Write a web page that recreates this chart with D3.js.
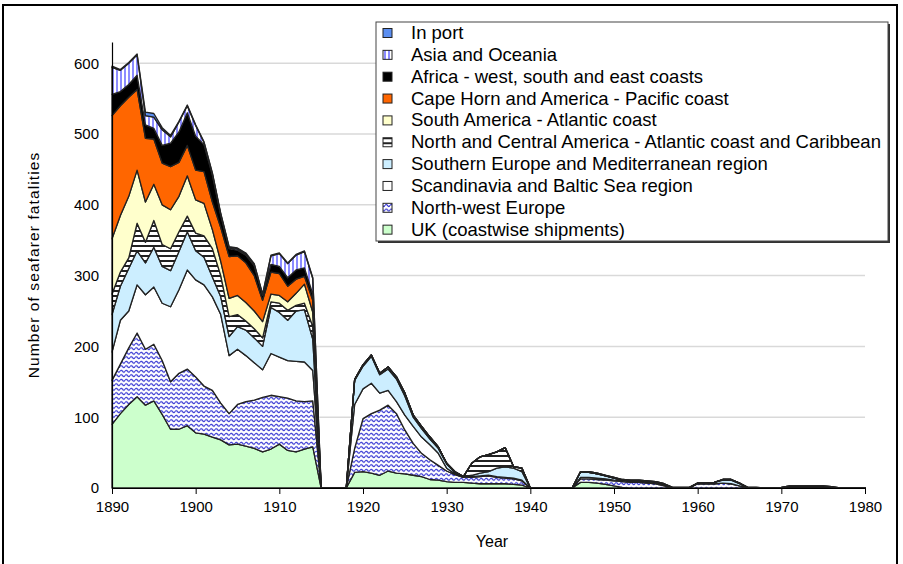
<!DOCTYPE html>
<html><head><meta charset="utf-8">
<script src="https://cdn.jsdelivr.net/npm/d3@7"></script>
<style>
body{margin:0;background:#fff}
svg{display:block}
text{font-family:"Liberation Sans",Arial,sans-serif;fill:#000}
</style>
</head><body>
<svg id="chart" width="903" height="564"></svg>
<script>
// ---------------- DATA ----------------
const years = [1890,1891,1892,1893,1894,1895,1896,1897,1898,1899,
  1900,1901,1902,1903,1904,1905,1906,1907,1908,1909,
  1910,1911,1912,1913,1914,1915,1916,1917,1918,1919,
  1920,1921,1922,1923,1924,1925,1926,1927,1928,1929,
  1930,1931,1932,1933,1934,1935,1936,1937,1938,1939,
  1940,1941,1942,1943,1944,1945,1946,1947,1948,1949,
  1950,1951,1952,1953,1954,1955,1956,1957,1958,1959,
  1960,1961,1962,1963,1964,1965,1966,1967,1968,1969,
  1970,1971,1972,1973,1974,1975,1976,1977,1978,1979,1980];

const ukCoastwise = [90,105,118,129,117,123,104,83,83,88, 78,76,72,68,61,62,59,56,51,55, 62,53,51,55,58,0,0,0,0,22,
  23,21,18,24,21,20,18,16,12,11, 9,8,8,7,6,6,6,6,5,4, 0,0,0,0,0,0,8,8,7,5,
  3,1,0,0,0,0,0,0,0,0, 0,0,0,0,0,0,0,0,0,0, 0,0,0,0,0,0,0,0,0,0,0];
const northWestEurope = [62,70,80,90,79,80,76,67,79,80, 79,68,66,52,44,56,63,68,77,76, 67,74,72,67,65,0,0,0,0,34,
  75,84,92,93,84,62,45,33,28,21, 15,11,7,8,10,11,9,8,8,6, 0,0,0,0,0,0,5,5,5,6,
  7,8,8,8,7,6,3,0,0,0, 6,6,6,7,6,3,0,0,0,0, 0,0,0,0,0,0,0,0,0,0,0];
const scandinavia = [40,62,52,68,77,81,81,106,118,140, 137,143,132,125,82,78,65,53,39,59, 56,53,56,56,43,0,0,0,0,62,
  42,43,24,21,17,21,24,23,21,17, 4,1,0,1,1,1,1,1,1,1, 0,0,0,0,0,0,2,2,2,2,
  1,1,1,1,1,1,1,0,0,0, 0,0,0,0,0,0,0,0,0,0, 0,0,0,0,0,0,0,0,0,0,0];
const southernEurope = [53,48,60,48,45,56,52,51,54,54, 41,39,28,25,27,32,36,35,33,65, 63,57,71,74,44,0,0,0,0,34,
  32,38,26,30,32,27,13,12,8,7, 6,2,1,2,4,5,12,15,14,12, 0,0,0,0,0,0,8,7,6,4,
  3,1,1,1,1,1,1,0,0,0, 1,1,2,4,5,3,0,0,0,0, 0,0,0,0,0,0,0,0,0,0,0];
const northCentralAmerica = [29,20,15,39,29,38,31,31,28,22, 25,30,40,30,28,17,13,13,12,8, 13,14,8,9,18,0,0,0,0,1,
  2,2,2,3,3,4,3,3,3,2, 1,1,0,17,23,24,23,27,2,5, 0,0,0,0,0,0,0,0,0,0,
  0,0,0,0,0,0,0,0,0,0, 0,0,0,1,1,1,0,0,0,0, 0,0,0,0,0,0,0,0,0,0,0];
const southAmericaAtlantic = [78,80,87,75,57,51,56,55,50,57, 47,46,27,20,26,27,26,25,23,11, 11,12,17,27,20,0,0,0,0,0,
  0,0,0,0,0,0,0,0,0,0, 0,0,0,0,0,0,0,0,0,0, 0,0,0,0,0,0,0,0,0,0,
  0,0,0,0,0,0,0,0,0,0, 0,0,0,0,0,0,0,0,0,0, 0,0,0,0,0,0,0,0,0,0,0];
const capeHornPacific = [174,155,140,114,90,64,59,61,48,43, 42,45,39,48,59,56,56,50,30,31, 31,22,20,11,17,0,0,0,0,0,
  0,0,0,0,0,0,0,0,0,0, 0,0,0,0,0,0,0,0,0,0, 0,0,0,0,0,0,0,0,0,0,
  0,0,0,0,0,0,0,0,0,0, 0,0,0,0,0,0,0,0,0,0, 0,0,0,0,0,0,0,0,0,0,0];
const africa = [30,20,18,20,19,15,25,33,43,46, 48,38,38,17,11,8,11,14,7,11, 10,12,13,12,9,0,0,0,0,0,
  0,0,0,0,0,0,0,0,0,0, 0,0,0,0,0,0,0,0,0,0, 0,0,0,0,0,0,0,1,1,1,
  1,1,1,1,1,1,1,1,1,1, 0,0,0,0,0,0,1,1,0,0, 1,3,3,3,3,3,2,0,0,0,0];
const asiaOceania = [38,30,30,29,13,16,22,9,14,10, 15,3,2,2,2,2,2,2,1,12, 18,20,21,23,22,0,0,0,0,0,
  0,0,0,0,0,0,0,0,0,0, 0,0,0,0,0,0,0,0,0,0, 0,0,0,0,0,0,0,0,0,0,
  0,0,0,0,0,0,0,0,0,0, 0,0,0,0,0,0,0,0,0,0, 0,0,0,0,0,0,0,0,0,0,0];
const inPort = [2,1,1,1,5,5,3,2,1,1, 1,1,1,1,1,1,1,1,1,1, 1,1,1,1,1,0,0,0,0,0,
  0,0,0,0,0,0,0,0,0,0, 0,0,0,0,0,0,0,0,0,0, 0,0,0,0,0,0,0,0,0,0,
  0,0,0,0,0,0,0,0,0,0, 0,0,0,0,0,0,0,0,0,0, 0,0,0,0,0,0,0,0,0,0,0];

// bottom -> top stacking order
const seriesNames = ["UK (coastwise shipments)","North-west Europe","Scandinavia and Baltic Sea region",
  "Southern Europe and Mediterranean region","North and Central America - Atlantic coast and Caribbean",
  "South America - Atlantic coast","Cape Horn and America - Pacific coast",
  "Africa - west, south and east coasts","Asia and Oceania","In port"];
const seriesValues = [ukCoastwise,northWestEurope,scandinavia,southernEurope,northCentralAmerica,
  southAmericaAtlantic,capeHornPacific,africa,asiaOceania,inPort];
const xTicks = [1890,1900,1910,1920,1930,1940,1950,1960,1970,1980];
const yTicks = [0,100,200,300,400,500,600];

// ---------------- STYLE ----------------
const fills = ["#ccffcc","url(#pNW)","#ffffff","#cceeff","url(#pNA)","#ffffcc","#ff6600","#000000","url(#pAS)","#5b8ef0"];

const svg = d3.select("#chart");
const defs = svg.append("defs");
// vertical stripes (Asia)
const pAS = defs.append("pattern").attr("id","pAS").attr("width",4).attr("height",4).attr("patternUnits","userSpaceOnUse");
pAS.append("rect").attr("width",4).attr("height",4).attr("fill","#fff");
pAS.append("rect").attr("x",0).attr("width",2).attr("height",4).attr("fill","#8c8cff");
// horizontal stripes (N&C America)
const pNA = defs.append("pattern").attr("id","pNA").attr("width",4).attr("height",5).attr("patternUnits","userSpaceOnUse");
pNA.append("rect").attr("width",4).attr("height",5).attr("fill","#fff");
pNA.append("rect").attr("y",0).attr("width",4).attr("height",2).attr("fill","#222");
// waves (NW Europe)
const pNW = defs.append("pattern").attr("id","pNW").attr("width",5).attr("height",4.5).attr("patternUnits","userSpaceOnUse");
pNW.append("rect").attr("width",5).attr("height",4.5).attr("fill","#fff");
pNW.append("path").attr("d","M0,2.2 Q1.25,0.2 2.5,2.2 Q3.75,4.2 5,2.2").attr("fill","none").attr("stroke","#2b2bd0").attr("stroke-width",1.1);

const x = d3.scaleLinear().domain([1890,1980]).range([112,865]);
const y = d3.scaleLinear().domain([0,630]).range([488,42]);

// outer frame
svg.append("rect").attr("x",3).attr("y",5).attr("width",894).attr("height",600)
  .attr("fill","none").attr("stroke","#000").attr("stroke-width",2);

// gridlines
svg.append("g").selectAll("line").data(yTicks.filter(d=>d>0)).join("line")
  .attr("x1",x(1890)).attr("x2",x(1980)).attr("y1",d=>y(d)).attr("y2",d=>y(d))
  .attr("stroke","#d9d9d9").attr("stroke-width",1.5);

// stacked data
const table = years.map((yr,i)=>{const o={year:yr}; seriesNames.forEach((n,k)=>o[n]=seriesValues[k][i]); return o;});
const stack = d3.stack().keys(seriesNames)(table);
const area = d3.area().x(d=>x(d.data.year)).y0(d=>y(d[0])).y1(d=>y(d[1]));

svg.append("g").selectAll("path").data(stack).join("path")
  .attr("d",area).attr("fill",(d,i)=>fills[i])
  .attr("stroke","#222").attr("stroke-width",1.3).attr("stroke-linejoin","round");

// axes
const xAxis = svg.append("g").attr("transform",`translate(0,${y(0)})`)
  .call(d3.axisBottom(x).tickValues(xTicks).tickFormat(d3.format("d")).tickSize(6).tickSizeOuter(0).tickPadding(7));
xAxis.select(".domain").attr("stroke","#000").attr("stroke-width",1.2);
xAxis.selectAll(".tick line").attr("stroke","#000");
xAxis.selectAll("text").style("font-size","15px").attr("font-family","Liberation Sans, Arial, sans-serif");

const yAxis = svg.append("g").attr("transform",`translate(${x(1890)},0)`)
  .call(d3.axisLeft(y).tickValues(yTicks).tickSize(0).tickSizeOuter(0).tickPadding(13));
yAxis.select(".domain").attr("stroke","#000").attr("stroke-width",1.2);
yAxis.selectAll("text").style("font-size","15px").attr("font-family","Liberation Sans, Arial, sans-serif");

// axis titles
svg.append("text").attr("x",492).attr("y",547).attr("text-anchor","middle").style("font-size","16px").text("Year");
svg.append("text").attr("transform","translate(39,265) rotate(-90)").attr("text-anchor","middle")
  .style("font-size","15.5px").style("letter-spacing","1.1px").text("Number of seafarer fatalities");

// legend
const lg = svg.append("g");
lg.append("rect").attr("x",378).attr("y",24).attr("width",512).attr("height",219).attr("fill","#333");
lg.append("rect").attr("x",376).attr("y",22).attr("width",512).attr("height",219).attr("fill","#fff").attr("stroke","#444").attr("stroke-width",1);
const legendOrder = seriesNames.map((n,i)=>({n,i})).reverse();
const rows = lg.selectAll("g.row").data(legendOrder).join("g").attr("class","row")
  .attr("transform",(d,j)=>`translate(0,${33 + j*21.85})`);
rows.append("rect").attr("x",383).attr("y",-4.5).attr("width",9).attr("height",9)
  .attr("fill",d=>fills[d.i]).attr("stroke","#222").attr("stroke-width",1);
rows.append("text").attr("x",411).attr("y",6).style("font-size","18.5px").text(d=>d.n);
</script>
</body></html>
